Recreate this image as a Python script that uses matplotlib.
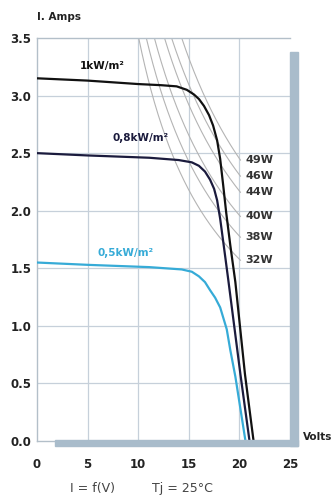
import numpy as np
import matplotlib
matplotlib.use("Agg")
import matplotlib.pyplot as plt
from matplotlib.patches import Rectangle

# ---- data ----
v_1kw = [0, 5, 10, 12.3, 13.8, 14.8, 15.5, 16.0, 16.5, 17.0, 17.4, 17.8, 18.1, 18.4, 18.7, 19.1, 19.6, 20.55, 21.4]
i_1kw = [3.15, 3.13, 3.10, 3.09, 3.08, 3.05, 3.01, 2.97, 2.91, 2.83, 2.74, 2.61, 2.45, 2.22, 1.98, 1.70, 1.38, 0.58, 0.0]

v_08kw = [0, 5, 11.1, 14.0, 15.3, 16.0, 16.6, 17.1, 17.5, 17.8, 18.1, 18.6, 18.9, 20.1, 21.0]
i_08kw = [2.50, 2.48, 2.46, 2.44, 2.42, 2.39, 2.34, 2.27, 2.19, 2.09, 1.93, 1.60, 1.40, 0.58, 0.0]

v_05kw = [0, 5, 11.1, 14.3, 15.3, 16.0, 16.6, 17.1, 17.6, 18.1, 18.75, 19.1, 19.6, 20.6]
i_05kw = [1.55, 1.53, 1.51, 1.49, 1.47, 1.43, 1.38, 1.31, 1.245, 1.16, 0.97, 0.79, 0.56, 0.0]

curve_labels = ["1kW/m²", "0,8kW/m²", "0,5kW/m²"]
powers = [49, 46, 44, 40, 38, 32]
power_labels = ["49W", "46W", "44W", "40W", "38W", "32W"]
# iso-power lines as drawn: voltage where each meets the top (3.5 A) and current at its right end
power_top_v = [14.3, 13.3, 12.6, 11.6, 10.8, 10.05]
power_end_i = [2.44, 2.30, 2.16, 1.95, 1.77, 1.57]
power_end_v = 20.1

x_ticks = [0, 5, 10, 15, 20, 25]
y_ticks = [0.0, 0.5, 1.0, 1.5, 2.0, 2.5, 3.0, 3.5]

# ---- figure ----
W, H = 333, 498
fig = plt.figure(figsize=(W / 100, H / 100), dpi=100)
fig.patch.set_facecolor("white")

def fx(px):
    return px / W

def fy(py):
    return 1 - py / H

ax = fig.add_axes([fx(37), fy(441), (290 - 37) / W, (441 - 38) / H])
ax.set_xlim(0, 25)
ax.set_ylim(0, 3.5)

grid_c = "#c6d0da"
for x in x_ticks[1:-1]:
    ax.axvline(x, color=grid_c, lw=0.9, zorder=1)
for y in y_ticks[1:-1]:
    ax.axhline(y, color=grid_c, lw=0.9, zorder=1)

# iso-power curves: hyperbola I = a / (V - b) through the two read points
for vt, ie in zip(power_top_v, power_end_i):
    b = (3.5 * vt - ie * power_end_v) / (3.5 - ie)
    a = 3.5 * (vt - b)
    vv = np.linspace(vt, power_end_v, 200)
    ax.plot(vv, a / (vv - b), color="#b4b4b4", lw=0.8, zorder=2)

for lab, yy in zip(power_labels, power_end_i):
    ax.text(20.6, yy, lab, fontsize=8, fontweight="bold", color="#333333",
            family="DejaVu Sans", va="center", ha="left", zorder=5, clip_on=False)

ax.plot(v_05kw, i_05kw, color="#36abd7", lw=1.6, zorder=4, solid_capstyle="butt")
ax.plot(v_08kw, i_08kw, color="#1b1b3d", lw=1.6, zorder=4, solid_capstyle="butt")
ax.plot(v_1kw, i_1kw, color="#111111", lw=1.6, zorder=4, solid_capstyle="butt")

ax.text(6.4, 3.26, curve_labels[0], fontsize=7.5, fontweight="bold", color="#111111",
        family="DejaVu Sans", ha="center", va="center")
ax.text(10.2, 2.63, curve_labels[1], fontsize=7.5, fontweight="bold", color="#1b1b3d",
        family="DejaVu Sans", ha="center", va="center")
ax.text(8.8, 1.63, curve_labels[2], fontsize=7.5, fontweight="bold", color="#36abd7",
        family="DejaVu Sans", ha="center", va="center")

# spines
spine_c = "#b3bfc9"
for s in ["left", "top", "bottom"]:
    ax.spines[s].set_color(spine_c)
    ax.spines[s].set_linewidth(1.0)
ax.spines["right"].set_visible(False)

ax.set_xticks(x_ticks)
ax.set_yticks(y_ticks)
ax.set_xticklabels([str(t) for t in x_ticks])
ax.set_yticklabels([f"{t:.1f}" for t in y_ticks])
ax.tick_params(length=0, labelsize=8.5, colors="#222222")
ax.tick_params(axis="x", pad=12)
ax.tick_params(axis="y", pad=4)
for lab in ax.get_xticklabels() + ax.get_yticklabels():
    lab.set_fontweight("bold")
    lab.set_family("DejaVu Sans")

# shadow bars
bar_c = "#a9bccb"
fig.patches.append(Rectangle((fx(290), fy(446)), 8 / W, (446 - 52) / H,
                             transform=fig.transFigure, color=bar_c, zorder=0))
fig.patches.append(Rectangle((fx(55), fy(446)), (298 - 55) / W, 6 / H,
                             transform=fig.transFigure, color=bar_c, zorder=0))

fig.text(fx(37), fy(17.5), "I. Amps", fontsize=7.5, fontweight="bold", color="#222222",
         family="DejaVu Sans", ha="left", va="center")
fig.text(fx(303), fy(437), "Volts", fontsize=7.5, fontweight="bold", color="#222222",
         family="DejaVu Sans", ha="left", va="center")

fig.text(fx(70), fy(488), "I = f(V)", fontsize=9, color="#444444",
         family="DejaVu Sans", ha="left", va="center")
fig.text(fx(152), fy(488), "Tj = 25°C", fontsize=9, color="#444444",
         family="DejaVu Sans", ha="left", va="center")

fig.savefig("out.png", dpi=100, facecolor="white")
